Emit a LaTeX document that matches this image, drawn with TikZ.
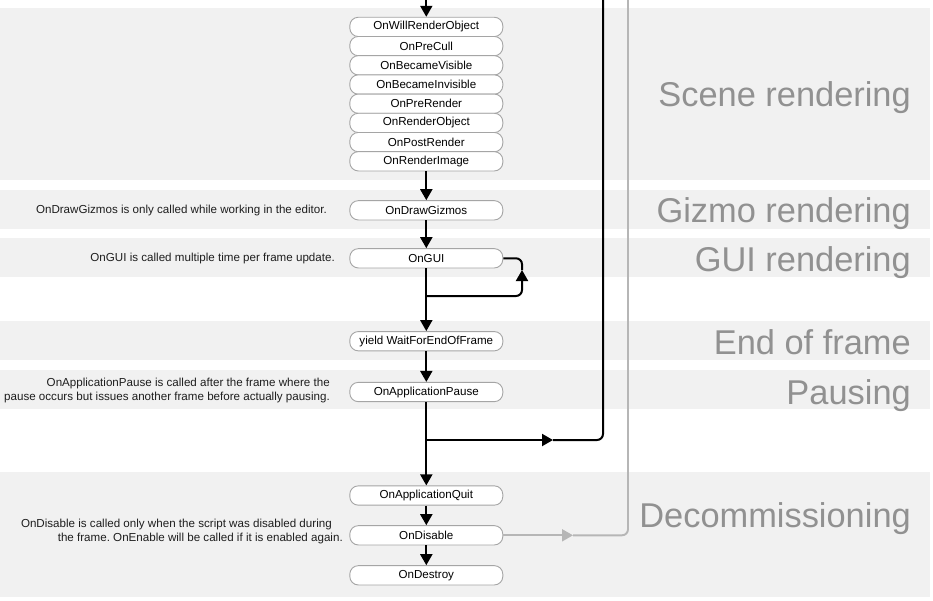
\documentclass[tikz,border=0pt]{standalone}
\usepackage{fontspec}
\setmainfont{Liberation Sans}
\usetikzlibrary{arrows.meta}
\frenchspacing
\definecolor{bandgray}{RGB}{241,241,241}
\definecolor{labelgray}{RGB}{145,145,145}
\definecolor{nodeborder}{RGB}{165,165,165}
\definecolor{greyline}{RGB}{182,182,182}
\definecolor{commentcol}{RGB}{30,30,30}
\begin{document}
\begin{tikzpicture}[x=1pt,y=-1pt,
  band/.style={fill=bandgray},
  evt/.style={draw=nodeborder, line width=0.9pt, fill=white, rounded corners=8.5pt,
    minimum width=153pt, minimum height=19.3pt, inner sep=0pt,
    font=\fontsize{11.6}{13}\selectfont},
  flow/.style={line width=2pt, -{Triangle[length=11pt,width=12pt]}},
  plain/.style={line width=2pt},
  greyflow/.style={draw=greyline, fill=greyline, line width=1.9pt, -{Triangle[length=11pt,width=12pt]}},
  greyplain/.style={draw=greyline, line width=1.9pt},
  comment/.style={anchor=east, inner sep=0pt, font=\fontsize{11.6}{14}\selectfont,
    text=commentcol, align=right},
  section/.style={anchor=base east, inner sep=0pt, font=\fontsize{34.4}{40}\selectfont, text=labelgray},
]
\useasboundingbox (0,0) rectangle (933,600);
% bands
\fill[band] (0,8) rectangle (930,180);
\fill[band] (0,190) rectangle (930,229);
\fill[band] (0,238) rectangle (930,277);
\fill[band] (0,321) rectangle (930,360);
\fill[band] (0,370) rectangle (930,409);
\fill[band] (0,472) rectangle (930,597);
% section labels
\node[section] (lscene) at (911,106.5) {Scene rendering};
\node[section] (lgizmo) at (911,222.8) {Gizmo rendering};
\node[section] (lgui) at (911,271) {GUI rendering};
\node[section] (lend) at (911,354) {End of frame};
\node[section] (lpause) at (911,404.5) {Pausing};
\node[section] (ldecom) at (911,527.5) {Decommissioning};
% comments
\node[comment] (c1) at (327,210) {OnDrawGizmos is only called while working in the editor.};
\node[comment] (c2) at (335,258) {OnGUI is called multiple time per frame update.};
\node[comment] (c3) at (330,390) {OnApplicationPause is called after the frame where the\\pause occurs but issues another frame before actually pausing.};
\node[comment] (c4) at (343,531) {OnDisable is called only when the script was disabled during\hspace*{11pt}\null\\the frame. OnEnable will be called if it is enabled again.};
% coordinates
\coordinate (topin) at (426.3,0);
\coordinate (loopstart) at (426.3,296);
\coordinate (loopup) at (522,270);
\coordinate (pbranch) at (426.3,440);
\coordinate (pmid) at (553,440);
\coordinate (ptop) at (603,0);
\coordinate (gmid) at (573,535.3);
\coordinate (gtop) at (628,0);
% long lines behind
\draw[flow] (pbranch) -- (pmid);
\draw[plain, rounded corners=6pt] (pmid) -| (ptop);
\draw[greyplain, rounded corners=6pt] (gmid) -| (gtop);
% nodes
\node[evt] (will) at (426.3,26.9) {OnWillRenderObject};
\node[evt] (precull) at (426.3,46.1) {OnPreCull};
\node[evt] (vis) at (426.3,65.3) {OnBecameVisible};
\node[evt] (invis) at (426.3,84.5) {OnBecameInvisible};
\node[evt] (prerender) at (426.3,103.7) {OnPreRender};
\node[evt] (renderobj) at (426.3,122.9) {OnRenderObject};
\node[evt] (postrender) at (426.3,142.1) {OnPostRender};
\node[evt] (renderimg) at (426.3,161.3) {OnRenderImage};
\node[evt] (gizmos) at (426.3,210.3) {OnDrawGizmos};
\node[evt] (gui) at (426.3,258.3) {OnGUI};
\node[evt] (yield) at (426.3,341.2) {yield WaitForEndOfFrame};
\node[evt] (pause) at (426.3,392) {OnApplicationPause};
\node[evt] (quit) at (426.3,495.5) {OnApplicationQuit};
\node[evt] (dis) at (426.3,535.3) {OnDisable};
\node[evt] (destroy) at (426.3,575.3) {OnDestroy};
% connectors
\draw[flow] (topin) -- (will.north);
\draw[flow] (renderimg.south) -- (gizmos.north);
\draw[flow] (gizmos.south) -- (gui.north);
\draw[flow] (gui.south) -- (yield.north);
\draw[flow, rounded corners=6pt] (loopstart) -| (loopup);
\draw[plain, rounded corners=6pt] (loopup) |- (gui.east);
\draw[flow] (yield.south) -- (pause.north);
\draw[flow] (pause.south) -- (quit.north);
\draw[flow] (quit.south) -- (dis.north);
\draw[flow] (dis.south) -- (destroy.north);
\draw[greyflow] (dis.east) -- (gmid);
\end{tikzpicture}
\end{document}
